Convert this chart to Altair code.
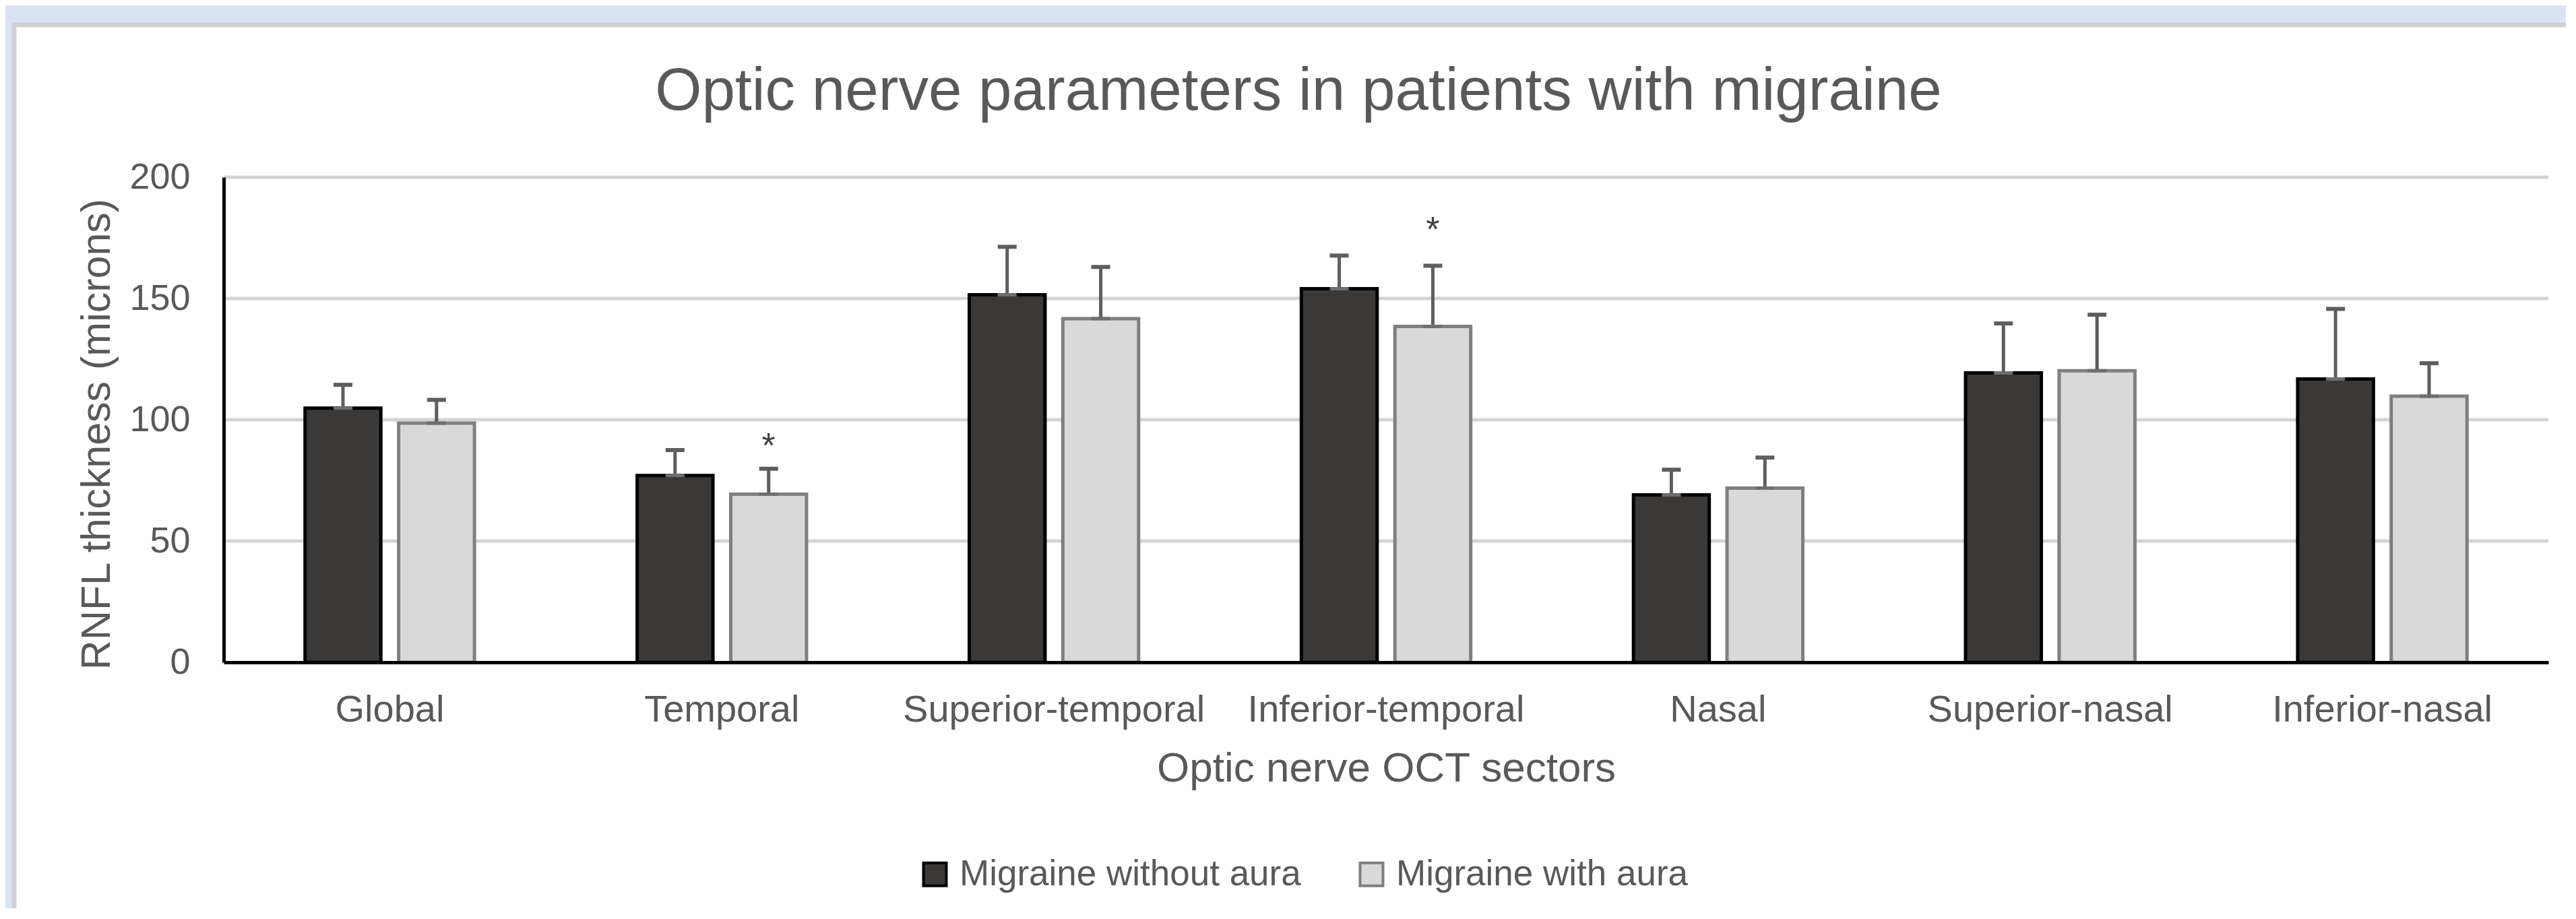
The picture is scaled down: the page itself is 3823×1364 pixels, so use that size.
import altair as alt
import pandas as pd

# ---------------- data ----------------
chart_title = "Optic nerve parameters in patients with migraine"
categories = ["Global", "Temporal", "Superior-temporal", "Inferior-temporal",
              "Nasal", "Superior-nasal", "Inferior-nasal"]
series_names = ["Migraine without aura", "Migraine with aura"]
without_aura = [104.8, 77.0, 151.5, 154.0, 69.0, 119.3, 116.8]
without_aura_sd = [9.6, 10.5, 19.8, 13.7, 10.4, 20.4, 28.9]
with_aura = [98.6, 69.3, 141.7, 138.5, 71.8, 120.2, 109.7]
with_aura_sd = [9.6, 10.5, 21.3, 25.0, 12.6, 23.1, 13.6]
with_aura_star_y = [None, 89, None, 178, None, None, None]
y_ticks = [0, 50, 100, 150, 200]
grid_values = [50, 100, 150, 200]

rows = []
for i, c in enumerate(categories):
    rows.append(dict(sector=c, series=series_names[0], value=without_aura[i],
                     upper=without_aura[i] + without_aura_sd[i]))
    rows.append(dict(sector=c, series=series_names[1], value=with_aura[i],
                     upper=with_aura[i] + with_aura_sd[i]))
df = pd.DataFrame(rows)
stars = pd.DataFrame([dict(sector=c, series=series_names[1], y=v, mark="*")
                      for c, v in zip(categories, with_aura_star_y) if v is not None])
grid_df = pd.DataFrame({"g": grid_values})

# ---------------- style ----------------
FONT = "Liberation Sans"
TXT = "#595959"
W, H = 3450, 720

x_axis = alt.Axis(title="Optic nerve OCT sectors", labelAngle=0, labelFontSize=56,
                  labelFont=FONT, labelColor=TXT, labelBaseline="alphabetic",
                  labelPadding=87, labelLimit=0, ticks=False, tickSize=0,
                  domainColor="#000000", domainWidth=5, grid=False, titleFontSize=62,
                  titleFont=FONT, titleColor=TXT, titleFontWeight="normal",
                  titleBaseline="alphabetic", titleY=176, zindex=1)
y_axis = alt.Axis(title="RNFL thickness (microns)", values=y_ticks, labelFontSize=54,
                  labelFont=FONT, labelColor=TXT, labelPadding=50, ticks=False,
                  tickSize=0, domainColor="#000000", domainWidth=5, grid=False,
                  titleFontSize=61, titleFont=FONT, titleColor=TXT,
                  titleFontWeight="normal", titleBaseline="alphabetic", titleAngle=270,
                  titleX=-170, titleY=381, zindex=1)

x_scale = alt.Scale(domain=categories, paddingInner=0.49, paddingOuter=0.245)
xo_scale = alt.Scale(domain=series_names, paddingInner=0.19, paddingOuter=0)
y_scale = alt.Scale(domain=[0, 200], nice=False)


def X():
    return alt.X("sector:N", sort=categories, scale=x_scale, axis=x_axis)


def XO():
    return alt.XOffset("series:N", sort=series_names, scale=xo_scale)


leg = alt.Legend(title=None, orient="none", legendX=1029, legendY=1008,
                 direction="horizontal", symbolType="square", symbolSize=1156,
                 symbolStrokeWidth=4, labelFontSize=53, labelFont=FONT, labelColor=TXT,
                 labelOffset=10, labelLimit=0, columnPadding=78, padding=0)

panel = alt.Chart(pd.DataFrame({"p": [0]})).mark_rect(
    fill="white", stroke="#d0d0d0", strokeWidth=7
).encode(x=alt.value(-311), x2=alt.value(3600), y=alt.value(-226), y2=alt.value(1300))

grid = alt.Chart(grid_df).mark_rule(color="#d4d4d4", strokeWidth=5).encode(
    y=alt.Y("g:Q", scale=y_scale, axis=y_axis),
    x=alt.value(0), x2=alt.value(W)
)

bars = alt.Chart(df).mark_bar(strokeWidth=5, strokeJoin="miter").encode(
    x=X(), xOffset=XO(),
    y=alt.Y("value:Q", scale=y_scale, axis=y_axis),
    fill=alt.Fill("series:N", sort=series_names,
                  scale=alt.Scale(domain=series_names, range=["#3b3838", "#d9d9d9"]),
                  legend=leg),
    stroke=alt.Stroke("series:N", sort=series_names,
                      scale=alt.Scale(domain=series_names, range=["#000000", "#7f7f7f"]),
                      legend=leg),
)

err = alt.Chart(df).mark_rule(color="#5e5e5e", strokeWidth=5).encode(
    x=X(), xOffset=XO(),
    y=alt.Y("value:Q", scale=y_scale, axis=y_axis), y2="upper:Q"
)

cap_top = alt.Chart(df).mark_tick(color="#5e5e5e", size=28, thickness=6, opacity=1).encode(
    x=X(), xOffset=XO(), y=alt.Y("upper:Q", scale=y_scale, axis=y_axis)
)

cap_base = alt.Chart(df).mark_tick(color="#6e6e6e", size=28, thickness=5, opacity=1).encode(
    x=X(), xOffset=XO(), y=alt.Y("value:Q", scale=y_scale, axis=y_axis)
)

star = alt.Chart(stars).mark_text(fontSize=52, font=FONT, color="#404040",
                                   baseline="middle", align="center").encode(
    x=X(), xOffset=XO(), y=alt.Y("y:Q", scale=y_scale, axis=y_axis), text="mark:N"
)

title = alt.Chart(pd.DataFrame({"t": [chart_title]})).mark_text(
    fontSize=89, font=FONT, color=TXT, baseline="alphabetic", align="center"
).encode(x=alt.value(1595), y=alt.value(-100), text="t:N")

chart = alt.layer(panel, grid, bars, err, cap_top, cap_base, star, title).properties(
    width=W, height=H,
    autosize=alt.AutoSizeParams(type="none"),
    padding={"left": 324, "top": 255, "right": 26, "bottom": 365},
    background="#dae3f3",
).configure_view(stroke=None)

chart.save("out.html", embed_options={"renderer": "svg", "actions": False})
